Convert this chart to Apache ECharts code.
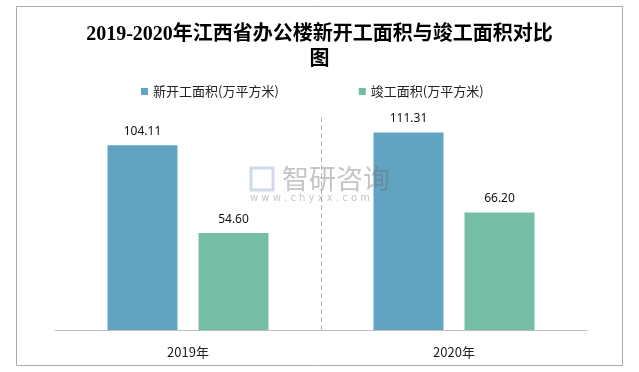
<!DOCTYPE html>
<html><head><meta charset="utf-8">
<script src="https://cdn.jsdelivr.net/npm/echarts@6/dist/echarts.min.js"></script>
<style>html,body{margin:0;padding:0;background:#fff}#c{width:639px;height:372px}</style>
</head><body><div id="c"></div>
<script>
const categories = ['2019年', '2020年'];
const newStarted = [104.11, 111.31];
const completed = [54.60, 66.20];
const seriesNames = ['新开工面积(万平方米)', '竣工面积(万平方米)'];

const chart = echarts.init(document.getElementById('c'));
chart.setOption({
  backgroundColor: '#fff',
  animation: false,
  title: {
    text: '2019-2020年江西省办公楼新开工面积与竣工面积对比\n图',
    left: 'center', top: 17,
    textStyle: { fontFamily: 'Liberation Serif, Noto Sans CJK SC', fontSize: 20, fontWeight: 'bold', color: '#000', lineHeight: 25 }
  },
  legend: {
    top: 80, left: 136, itemWidth: 7, itemHeight: 7, itemGap: 80, icon: 'rect',
    textStyle: { fontFamily: 'Noto Sans CJK SC', fontSize: 13, color: '#222' },
    data: seriesNames
  },
  graphic: [
    { type: 'rect', shape: { x: 16.5, y: 6.5, width: 606, height: 359 }, style: { fill: 'none', stroke: '#aaa', lineWidth: 1 }, z: -1 },
    { type: 'text', left: 282, top: 165, z: 100, style: { text: '智研咨询', fontFamily: 'Noto Sans CJK SC', fontSize: 27, fill: 'rgba(110,110,110,0.4)' } },
    { type: 'text', left: 250, top: 193, z: 100, style: { text: 'w w w . c h y x x . c o m', fontFamily: 'DejaVu Sans', fontSize: 10, fill: 'rgba(110,110,110,0.4)' } },
    { type: 'rect', z: 100, shape: { x: 251, y: 168, width: 22, height: 22 }, style: { fill: 'none', stroke: 'rgba(140,160,200,0.4)', lineWidth: 3 } }
  ],
  grid: { left: 55, right: 52, top: 117, bottom: 42 },
  xAxis: {
    type: 'category', data: categories,
    axisLine: { lineStyle: { color: '#bfbfbf', width: 1 } },
    axisTick: { show: false },
    axisLabel: { fontFamily: 'Noto Sans CJK SC', fontSize: 13, color: '#222', margin: 16 },
    splitLine: { show: true, lineStyle: { color: ['rgba(0,0,0,0)', '#bbb'], type: [5, 3], width: 1 } }
  },
  yAxis: { type: 'value', min: 0, max: 120, show: false, splitLine: { show: false } },
  series: [
    { name: seriesNames[0], type: 'bar', data: newStarted, barWidth: 70, barGap: '30%', itemStyle: { color: '#62A3C2' },
      label: { show: true, position: 'top', distance: 8, formatter: p => p.value.toFixed(2), fontFamily: 'Noto Sans', fontSize: 12, color: '#111' } },
    { name: seriesNames[1], type: 'bar', data: completed, barWidth: 70, itemStyle: { color: '#75BDA5' },
      label: { show: true, position: 'top', distance: 8, formatter: p => p.value.toFixed(2), fontFamily: 'Noto Sans', fontSize: 12, color: '#111' } }
  ]
});
</script></body></html>
